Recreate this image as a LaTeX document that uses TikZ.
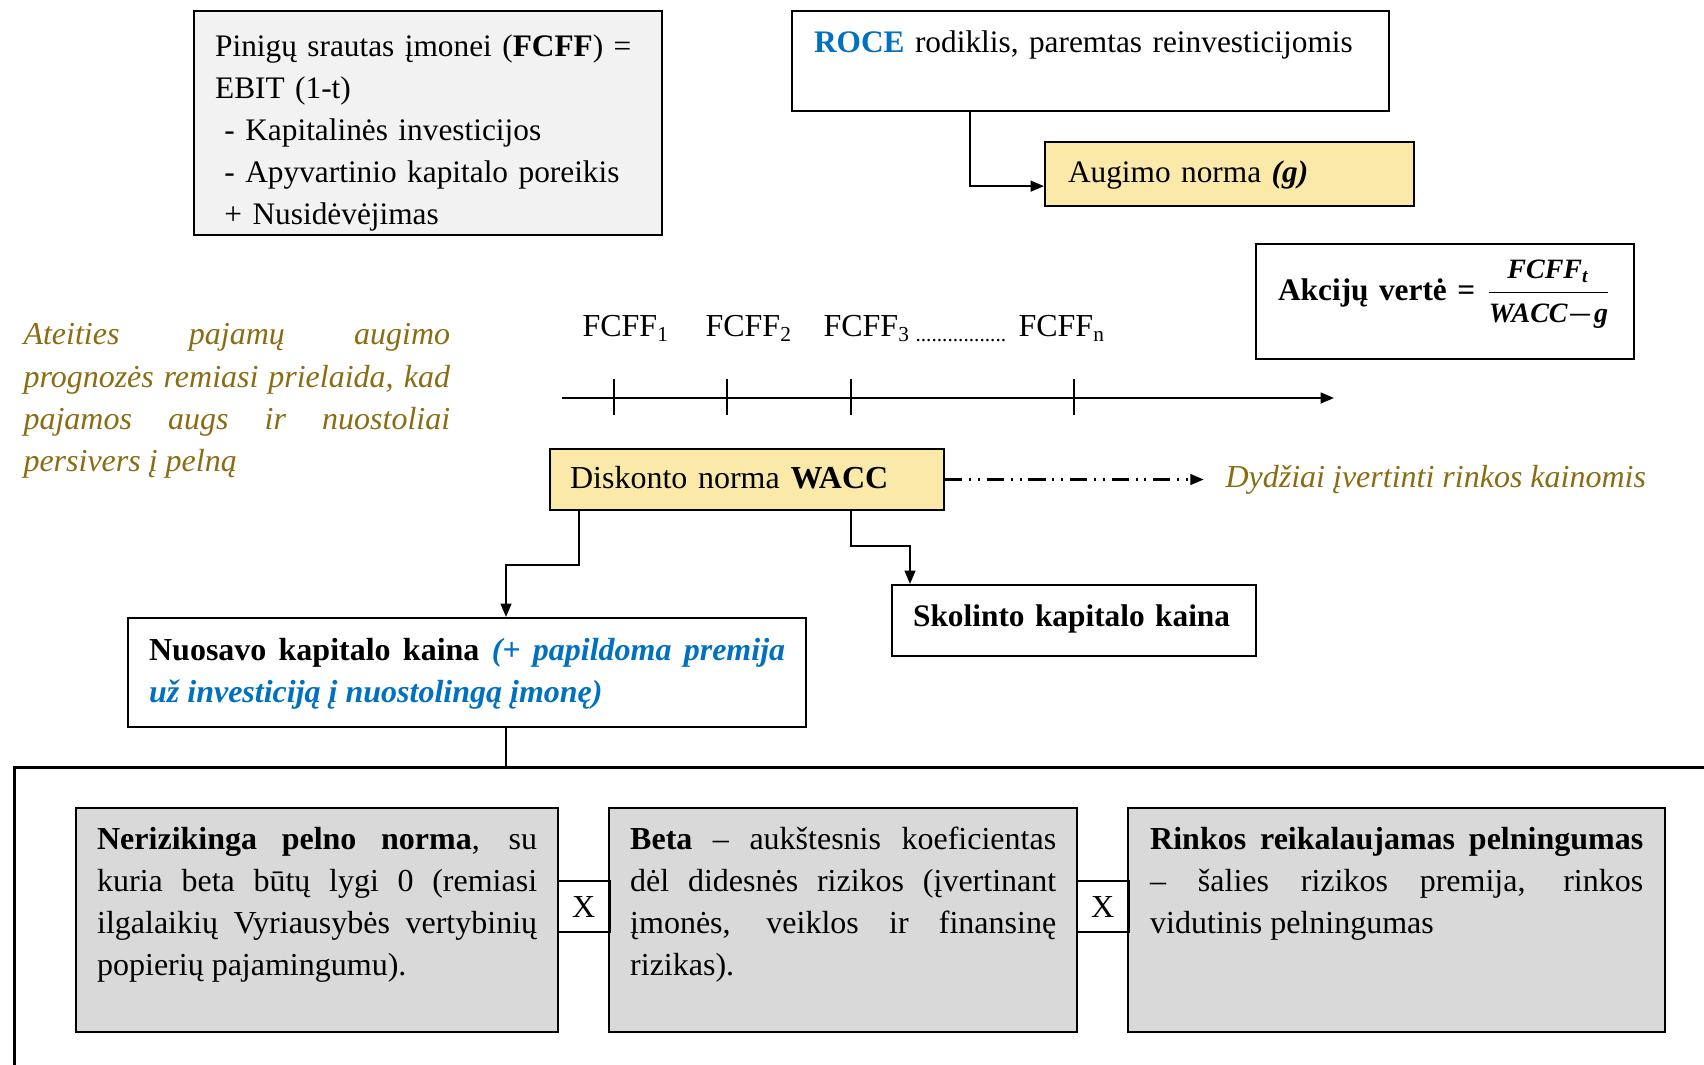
\documentclass[tikz,border=0pt]{standalone}
\usepackage{fontspec}
\setmainfont{Liberation Serif}
\usepackage{amsmath}
\usetikzlibrary{arrows.meta, positioning, calc}
\definecolor{notegold}{HTML}{8A6D12}
\definecolor{rateyellow}{HTML}{FAE9A9}
\definecolor{roceblue}{HTML}{0070C0}
\definecolor{flowgray}{HTML}{F2F2F2}
\definecolor{factorgray}{HTML}{D9D9D9}

\begin{document}
\begin{tikzpicture}[
    x=0.375pt, y=-0.375pt,
    font=\fontsize{12}{15.8}\selectfont,
    box/.style={draw, line width=0.8pt, anchor=north west, inner ysep=0pt,
                inner xsep=7.9pt, align=left},
    tight/.style={font=\fontsize{11.75}{15.8}\selectfont},
    factor/.style={box, fill=factorgray, align=justify, text height=15.4pt, text depth=68.6pt},
    mult/.style={draw, line width=0.8pt, minimum width=19.5pt, minimum height=19.1pt, inner sep=0pt},
    note/.style={text=notegold, font=\fontsize{12}{15.8}\selectfont\itshape, inner sep=0pt},
    arr/.style={-{Triangle[length=5pt, width=4pt]}, line width=0.8pt},
    dasharr/.style={arr, dash pattern=on 6.5pt off 2.5pt on 0.8pt off 2.5pt on 0.8pt off 2.5pt},
  ]
  \useasboundingbox (0,0) rectangle (1704,1065);
  \clip (0,0) rectangle (1704,1065);

  % Cash flow and growth
  \node[box, tight, fill=flowgray, text width=159.75pt, text height=16.9pt, text depth=67.1pt] (fcff) at (193,10)
    {Pinigų srautas įmonei (\textbf{FCFF}) =\\
     EBIT (1-t)\\
     \hspace*{3.5pt}- Kapitalinės investicijos\\
     \hspace*{3.5pt}- Apyvartinio kapitalo poreikis\\
     \hspace*{3.5pt}+ Nusidėvėjimas};

  \node[box, tight, text width=207.4pt, inner xsep=8.25pt, text height=15.4pt, text depth=22.1pt] (roce) at (791,10)
    {\textcolor{roceblue}{\textbf{ROCE}} rodiklis, paremtas reinvesticijomis};

  \node[box, tight, fill=rateyellow, text width=121.1pt, inner xsep=8.6pt, text height=15.2pt, text depth=8.8pt] (growth) at (1044,141)
    {Augimo norma \textbf{\textit{(g)}}};

  % Value formula
  \node[box, tight, text width=125.25pt, inner xsep=8.25pt, text height=21pt, text depth=22.1pt] (value) at (1255,243)
    {\mbox{\textbf{Akcijų vertė =}\ {\fontsize{10.5}{13}\selectfont\boldmath$\dfrac{\textbf{\textit{FCFF}}_{\textbf{\textit{t}}}}{\textbf{\textit{WACC}}{-}\textbf{\textit{g}}}$}}};

  \node[note, anchor=base west, text width=160pt, align=justify] (forecast) at (23,345)
    {Ateities pajamų augimo\linebreak prognozės remiasi prielaida, kad\linebreak pajamos augs ir nuostoliai\linebreak persivers į pelną};

  % Timeline
  \foreach \x/\s in {582/1, 705/2, 823/3, 1018/n}
    \node[anchor=base west, inner sep=0pt] (f\s) at (\x,337) {FCFF\textsubscript{\s}};
  \node[anchor=base west, inner sep=0pt] (dots) at (915,337) {\textsubscript{.................}};
  \coordinate (t0) at (562,398);
  \coordinate (tend) at (1334,398);
  \draw[arr] (t0) -- (tend);
  \foreach \t in {614,727,851,1074}
    \draw[line width=0.6pt] (\t,379) -- (\t,415);

  % Discount rate
  \node[box, fill=rateyellow, text width=132.75pt, inner xsep=7.5pt, text height=14.6pt, text depth=8.25pt] (wacc) at (549,448)
    {Diskonto norma \textbf{WACC}};
  \node[note, anchor=base west] (pricing) at (1225,487) {Dydžiai įvertinti rinkos kainomis};

  \node[box, tight, text width=120.75pt, text height=15.4pt, text depth=11.25pt] (debt) at (891,584)
    {\mbox{\textbf{Skolinto kapitalo kaina}}};
  \node[box, align=justify, text width=238.5pt, text height=15.75pt, text depth=25.1pt] (equity) at (127,617)
    {\textbf{Nuosavo kapitalo kaina} \textcolor{roceblue}{\textbf{\textit{(+ papildoma premija\linebreak už investiciją į nuostolingą įmonę)}}}};

  % Cost of equity factors
  \node[draw, line width=1pt, anchor=north west, minimum width=660pt, minimum height=130pt, inner sep=0pt] (factors) at (13,766) {};

  \node[factor, text width=165pt] (riskfree) at (75,807)
    {\textbf{Nerizikinga pelno norma}, su\linebreak kuria beta būtų lygi 0 (remiasi\linebreak ilgalaikių Vyriausybės vertybinių\linebreak popierių pajamingumu).};
  \node[factor, text width=159.75pt, right=18.3pt of riskfree] (beta)
    {\textbf{Beta} – aukštesnis koeficientas\linebreak dėl didesnės rizikos (įvertinant\linebreak įmonės, veiklos ir finansinę\linebreak rizikas).};
  \node[factor, text width=184.9pt, inner xsep=8.25pt, right=18.3pt of beta] (market)
    {\textbf{Rinkos reikalaujamas pelningumas}\linebreak – šalies rizikos premija, rinkos\linebreak vidutinis pelningumas};

  \node[mult, yshift=5pt] (x1) at ($(riskfree.east)!0.5!(beta.west)$) {X};
  \node[mult, yshift=5pt] (x2) at ($(beta.east)!0.5!(market.west)$) {X};

  % Arrows
  \draw[arr] (roce.south west) ++(179,0) |- ($(growth.south west)+(0,-21)$);
  \draw[dasharr] (wacc.east) -- ([xshift=-8pt]wacc.east -| pricing.west);
  \draw[arr] (wacc.south west) ++(30,0) -- ++(0,54) -| ($(equity.north west)+(379,0)$);
  \draw[arr] (wacc.south west) ++(302,0) -- ++(0,35) -| ($(debt.north west)+(19,0)$);
  \draw[line width=0.5pt] (equity.south west) ++(379,0) -- ++(0,40);

\end{tikzpicture}
\end{document}
